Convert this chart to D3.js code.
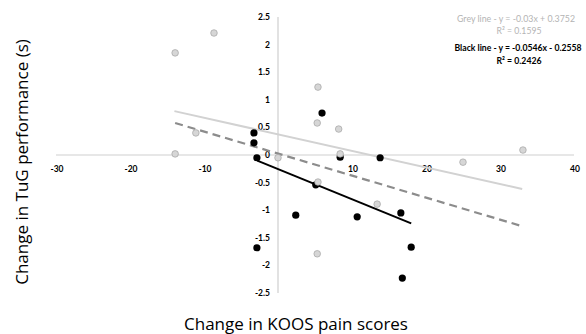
<!DOCTYPE html>
<html>
<head>
<meta charset="utf-8">
<script src="https://cdnjs.cloudflare.com/ajax/libs/d3/7.8.5/d3.min.js"></script>
<style>
  body { margin: 0; background: #fff; }
</style>
</head>
<body>
<div id="chart"></div>
<script>

  // KOOS pain change (x) vs TuG change (y)
  var grey_x = [-13.9, -8.65, 5.4, 5.3, 8.2, -11.1, -13.9, 0, 8.4, 5.4, 5.3, 13.4, 25, 33.1];
  var grey_y = [1.85, 2.21, 1.23, 0.58, 0.47, 0.40, 0.02, -0.05, 0.02, -0.49, -1.79, -0.89, -0.13, 0.09];
  var black_x = [5.95, -3.25, -3.25, -2.85, 8.4, 13.8, 5.1, 2.4, 10.7, -2.85, 16.6, 18.0, 16.8];
  var black_y = [0.76, 0.40, 0.22, -0.05, -0.04, -0.05, -0.54, -1.09, -1.12, -1.68, -1.05, -1.67, -2.23];

  // trend line end points
  var grey_line = [[-14, 0.795], [33, -0.615]];
  var dash_line = [[-13.9, 0.58], [33, -1.29]];
  var black_line = [[-2.8, -0.103], [18, -1.239]];

  var x_ticks = [-30, -20, -10, 10, 20, 30, 40];
  var y_ticks = [2.5, 2, 1.5, 1, 0.5, 0, -0.5, -1, -1.5, -2, -2.5];

  var notes = ["Grey line - y = -0.03x + 0.3752", "R\u00b2 = 0.1595",
               "Black line - y = -0.0546x - 0.2558", "R\u00b2 = 0.2426"];

  var chart = {

    init: function(){

      this.svg = d3.select('#chart')
                    .append('svg')
                    .attr('width', 586)
                    .attr('height', 334)
                    .style('background-color', 'white');

      var x = d3.scaleLinear().domain([-30, 40]).range([56, 574]);
      var y = d3.scaleLinear().domain([-2.5, 2.5]).range([293, 17]);

      // axis lines through the origin
      this.svg.append('line')
              .attr('x1', x(-30)).attr('x2', x(40))
              .attr('y1', y(0)).attr('y2', y(0))
              .style('stroke', '#cfcfcf').style('stroke-width', 1.2);
      this.svg.append('line')
              .attr('x1', x(0)).attr('x2', x(0))
              .attr('y1', y(2.5)).attr('y2', y(-2.5))
              .style('stroke', '#cfcfcf').style('stroke-width', 1.2);

      this.svg.selectAll('.xt')
              .data(x_ticks)
              .enter().append('text')
              .attr('class', 'xt')
              .attr('x', function(d){ return x(d) + 1; })
              .attr('y', y(0) + 17)
              .attr('text-anchor', 'middle')
              .style('font', 'bold 8.5px Lato')
              .text(function(d){ return d; });

      this.svg.selectAll('.yt')
              .data(y_ticks)
              .enter().append('text')
              .attr('class', 'yt')
              .attr('x', x(0) - 8)
              .attr('y', function(d){ return y(d) + 3; })
              .attr('text-anchor', 'end')
              .style('font', 'bold 8.5px Lato')
              .text(function(d){ return d; });

      var line = d3.line()
                  .x(function(d){ return x(d[0]); })
                  .y(function(d){ return y(d[1]); });

      this.svg.append('path').attr('d', line(grey_line))
              .style('fill', 'none').style('stroke', '#d2d2d2').style('stroke-width', 2);
      this.svg.append('path').attr('d', line(dash_line))
              .style('fill', 'none').style('stroke', '#8c8c8c').style('stroke-width', 2.2)
              .style('stroke-dasharray', '8,5');
      this.svg.append('path').attr('d', line(black_line))
              .style('fill', 'none').style('stroke', '#000').style('stroke-width', 2);

      var grey = grey_x.map(function(v, i){ return {x: v, y: grey_y[i]}; });
      var black = black_x.map(function(v, i){ return {x: v, y: black_y[i]}; });

      this.svg.selectAll('.blk')
              .data(black)
              .enter().append('circle')
              .attr('class', 'blk')
              .attr('cx', function(d){ return x(d.x); })
              .attr('cy', function(d){ return y(d.y); })
              .attr('r', 3.6)
              .style('fill', '#000');

      this.svg.selectAll('.gry')
              .data(grey)
              .enter().append('circle')
              .attr('class', 'gry')
              .attr('cx', function(d){ return x(d.x); })
              .attr('cy', function(d){ return y(d.y); })
              .attr('r', 3.3)
              .style('fill', '#d6d6d6')
              .style('stroke', '#a4a4a4')
              .style('stroke-width', 0.7);

      // equations
      var note_pos = [[516, 22, '#b4b4b4', 'normal', 118], [519, 34, '#b4b4b4', 'normal', 45],
                      [518, 51, '#000', 'bold', 127], [519, 64, '#000', 'bold', 45]];
      this.svg.selectAll('.note')
              .data(notes)
              .enter().append('text')
              .attr('class', 'note')
              .attr('x', function(d, i){ return note_pos[i][0]; })
              .attr('y', function(d, i){ return note_pos[i][1]; })
              .attr('text-anchor', 'middle')
              .attr('textLength', function(d, i){ return note_pos[i][4]; })
              .attr('lengthAdjust', 'spacingAndGlyphs')
              .style('fill', function(d, i){ return note_pos[i][2]; })
              .style('font-weight', function(d, i){ return note_pos[i][3]; })
              .style('font-family', 'Lato')
              .style('font-size', '9px')
              .text(function(d){ return d; });

      this.svg.append('text')
              .attr('x', 296).attr('y', 330)
              .attr('text-anchor', 'middle')
              .style('font', '17px "Open Sans"')
              .text('Change in KOOS pain scores');

      this.svg.append('text')
              .attr('transform', 'translate(28,162) rotate(-90)')
              .attr('text-anchor', 'middle')
              .style('font', '17px "Open Sans"')
              .text('Change in TuG performance (s)');
    }

  };

  chart.init();
</script>
</body>
</html>
